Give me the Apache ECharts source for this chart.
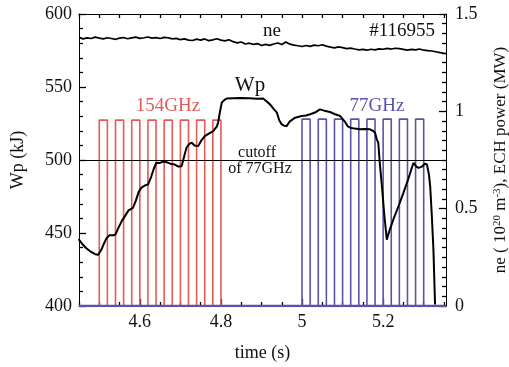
<!DOCTYPE html>
<html>
<head>
<meta charset="utf-8">
<script src="https://cdn.jsdelivr.net/npm/echarts@6/dist/echarts.min.js"></script>
<style>
  html, body { margin: 0; padding: 0; background: #fff; }
  #chart { width: 509px; height: 367px; }
</style>
</head>
<body>
<div id="chart"></div>
<script>
// Shot #116955: stored energy Wp, line density ne and ECH power vs time

// Stored energy Wp (kJ): [time (s), Wp]
const wpTrace = [
  [4.449, 445.8], [4.458, 442.5], [4.468, 439.6], [4.480, 437.0], [4.490, 435.5],
  [4.497, 435.0], [4.505, 438.5], [4.512, 443.0], [4.518, 446.5], [4.525, 448.5],
  [4.535, 448.5], [4.540, 449.0], [4.548, 454.0], [4.556, 458.5], [4.563, 461.4],
  [4.572, 465.5], [4.583, 467.2], [4.590, 472.0], [4.597, 478.0], [4.604, 481.1],
  [4.612, 482.5], [4.620, 483.2], [4.628, 488.5], [4.635, 494.5], [4.641, 498.1],
  [4.650, 498.0], [4.658, 499.0], [4.666, 498.5], [4.675, 497.5], [4.686, 496.9],
  [4.695, 495.5], [4.703, 495.7], [4.709, 502.0], [4.715, 508.4], [4.722, 511.0],
  [4.728, 511.8], [4.735, 510.0], [4.744, 509.5], [4.752, 513.5], [4.760, 516.4],
  [4.770, 518.0], [4.781, 519.8], [4.790, 523.0], [4.793, 525.6], [4.797, 532.0],
  [4.802, 539.3], [4.808, 541.0], [4.814, 542.1], [4.830, 542.3], [4.847, 542.5],
  [4.870, 542.3], [4.890, 542.0], [4.904, 542.1], [4.913, 540.0], [4.921, 538.1],
  [4.930, 535.0], [4.938, 532.4], [4.944, 527.0], [4.950, 524.4], [4.956, 523.5],
  [4.962, 523.2], [4.970, 526.5], [4.983, 529.0], [4.999, 530.1], [5.010, 530.5],
  [5.020, 531.3], [5.032, 532.5], [5.044, 534.7], [5.055, 533.8], [5.069, 532.9],
  [5.080, 531.5], [5.094, 530.1], [5.105, 526.5], [5.113, 523.0], [5.119, 522.1],
  [5.130, 521.5], [5.143, 521.0], [5.155, 521.2], [5.168, 521.0], [5.175, 520.0],
  [5.180, 518.7], [5.184, 514.5], [5.188, 511.8], [5.192, 497.0], [5.197, 482.0],
  [5.203, 462.0], [5.209, 445.4], [5.216, 452.0], [5.225, 459.1], [5.238, 468.5],
  [5.250, 477.5], [5.262, 487.0], [5.270, 494.0], [5.275, 498.1], [5.282, 495.5],
  [5.287, 494.6], [5.296, 495.5], [5.303, 497.5], [5.308, 496.9], [5.313, 490.0],
  [5.316, 482.0], [5.320, 462.0], [5.324, 438.5], [5.328, 401.0]
];

// Line-averaged density ne (10^20 m^-3): [time (s), ne]
const neTrace = [
  [4.450, 1.380], [4.460, 1.372], [4.470, 1.377], [4.480, 1.374], [4.490, 1.381],
  [4.500, 1.376], [4.510, 1.372], [4.520, 1.378], [4.530, 1.374], [4.540, 1.370],
  [4.550, 1.376], [4.560, 1.379], [4.570, 1.373], [4.580, 1.377], [4.590, 1.381],
  [4.600, 1.375], [4.610, 1.378], [4.620, 1.382], [4.630, 1.376], [4.640, 1.379],
  [4.650, 1.374], [4.660, 1.380], [4.670, 1.378], [4.680, 1.372], [4.690, 1.375],
  [4.700, 1.368], [4.710, 1.372], [4.720, 1.366], [4.730, 1.364], [4.740, 1.371],
  [4.750, 1.366], [4.760, 1.372], [4.770, 1.363], [4.780, 1.367], [4.790, 1.373],
  [4.800, 1.366], [4.810, 1.362], [4.820, 1.368], [4.830, 1.358], [4.840, 1.352],
  [4.850, 1.356], [4.860, 1.346], [4.870, 1.350], [4.880, 1.344], [4.890, 1.348],
  [4.900, 1.338], [4.910, 1.344], [4.920, 1.339], [4.930, 1.346], [4.940, 1.351],
  [4.950, 1.343], [4.960, 1.356], [4.970, 1.345], [4.980, 1.340], [4.990, 1.337],
  [5.000, 1.333], [5.010, 1.338], [5.020, 1.334], [5.030, 1.340], [5.040, 1.337],
  [5.050, 1.342], [5.060, 1.335], [5.070, 1.330], [5.080, 1.326], [5.090, 1.331],
  [5.100, 1.327], [5.110, 1.322], [5.120, 1.325], [5.130, 1.320], [5.140, 1.316],
  [5.150, 1.318], [5.160, 1.314], [5.170, 1.319], [5.180, 1.316], [5.190, 1.321],
  [5.200, 1.319], [5.210, 1.323], [5.220, 1.320], [5.230, 1.324], [5.240, 1.322],
  [5.250, 1.318], [5.260, 1.314], [5.270, 1.318], [5.280, 1.316], [5.290, 1.320],
  [5.300, 1.314], [5.310, 1.312], [5.320, 1.310], [5.330, 1.306], [5.340, 1.302],
  [5.350, 1.298], [5.355, 1.297]
];

// 154 GHz gyrotron pulses (s)
const pulse154On  = [4.50, 4.54, 4.58, 4.62, 4.66, 4.70, 4.74, 4.78];
const pulse154Off = [4.52, 4.56, 4.60, 4.64, 4.68, 4.72, 4.76, 4.80];
const power154 = 0.955; // MW

// 77 GHz gyrotron pulses (s)
const pulse77On  = [5.00, 5.04, 5.08, 5.12, 5.16, 5.20, 5.24, 5.28];
const pulse77Off = [5.02, 5.06, 5.10, 5.14, 5.18, 5.22, 5.26, 5.30];
const power77 = 0.96; // MW

// Cutoff density of the 77 GHz wave (10^20 m^-3)
const cutoffDensity = 0.75;

// Time axis range and ticks
const timeMin = 4.45;
const timeMax = 5.355;
const timeLabels = [4.6, 4.8, 5.0, 5.2];
const timeMinorTicks = [4.45, 4.5, 4.55, 4.65, 4.7, 4.75, 4.85, 4.9, 4.95,
  5.05, 5.1, 5.15, 5.25, 5.3, 5.35];
const timeAllTicks = [4.45, 4.5, 4.55, 4.6, 4.65, 4.7, 4.75, 4.8, 4.85, 4.9,
  4.95, 5.0, 5.05, 5.1, 5.15, 5.2, 5.25, 5.3, 5.35];

// Square-wave power trace from pulse edges
function pulseTrain(onTimes, offTimes, level) {
  const pts = [[timeMin, 0]];
  for (let i = 0; i < onTimes.length; i++) {
    pts.push([onTimes[i], 0], [onTimes[i], level], [offTimes[i], level], [offTimes[i], 0]);
  }
  pts.push([timeMax, 0]);
  return pts;
}

const SERIF = 'Liberation Serif';
const RED = '#e25b57';
const BLUE = '#5a54a8';
const INK = '#111';

const chart = echarts.init(document.getElementById('chart'), null, { renderer: 'canvas' });

const tickText = { fontFamily: SERIF, fontSize: 18, color: INK };
const tickLine = { color: '#000', width: 1.3 };

chart.setOption({
  animation: false,
  backgroundColor: '#fff',
  grid: { left: 79, right: 63, top: 14, bottom: 61, containLabel: false, outerBoundsMode: 'none' },
  xAxis: [
    {
      type: 'value', min: timeMin, max: timeMax, position: 'bottom',
      name: 'time (s)', nameLocation: 'middle', nameGap: 38,
      nameTextStyle: { fontFamily: SERIF, fontSize: 18, color: INK },
      axisLine: { show: true, lineStyle: { color: '#000', width: 1 } },
      axisTick: { show: true, inside: true, length: 7, customValues: timeLabels, lineStyle: tickLine },
      axisLabel: Object.assign({ customValues: timeLabels, margin: 7,
        formatter: v => String(Math.round(v * 10) / 10) }, tickText),
      splitLine: { show: false }
    },
    {
      type: 'value', min: timeMin, max: timeMax, position: 'bottom',
      axisLine: { show: false },
      axisTick: { show: true, inside: true, length: 4, customValues: timeMinorTicks, lineStyle: tickLine },
      axisLabel: { show: false },
      splitLine: { show: false }
    },
    {
      type: 'value', min: timeMin, max: timeMax, position: 'top',
      axisLine: { show: true, lineStyle: { color: '#000', width: 1 } },
      axisTick: { show: true, inside: true, length: 4, customValues: timeAllTicks, lineStyle: tickLine },
      axisLabel: { show: false },
      splitLine: { show: false }
    }
  ],
  yAxis: [
    {
      type: 'value', min: 400, max: 600, interval: 50, position: 'left',
      name: 'Wp (kJ)', nameLocation: 'middle', nameGap: 52, nameRotate: 90,
      nameTextStyle: { fontFamily: SERIF, fontSize: 18, color: INK },
      axisLine: { show: true, lineStyle: { color: '#000', width: 1 } },
      axisTick: { show: true, inside: true, length: 7, lineStyle: tickLine },
      minorTick: { show: true, splitNumber: 5, length: 4, lineStyle: tickLine },
      axisLabel: Object.assign({ margin: 7 }, tickText),
      splitLine: { show: false }
    },
    {
      type: 'value', min: 0, max: 1.5, interval: 0.5, position: 'right',
      name: 'ne ( 10{sup|20} m{sup|-3}), ECH power (MW)', nameLocation: 'middle', nameGap: 46, nameRotate: 90,
      nameTextStyle: {
        fontFamily: SERIF, fontSize: 17, color: INK,
        rich: { sup: { fontFamily: SERIF, fontSize: 11, color: INK, verticalAlign: 'bottom', padding: [0, 0, 7, 0] } }
      },
      axisLine: { show: true, lineStyle: { color: '#000', width: 1 } },
      axisTick: { show: true, inside: true, length: 7, lineStyle: tickLine },
      minorTick: { show: true, splitNumber: 10, length: 4, lineStyle: tickLine },
      axisLabel: Object.assign({ margin: 9, formatter: v => String(v) }, tickText),
      splitLine: { show: false }
    }
  ],
  series: [
    {
      name: '154GHz', type: 'line', xAxisIndex: 0, yAxisIndex: 1,
      data: pulseTrain(pulse154On, pulse154Off, power154),
      showSymbol: false, symbol: 'none', z: 2,
      lineStyle: { color: RED, width: 1.6 }
    },
    {
      name: '77GHz', type: 'line', xAxisIndex: 0, yAxisIndex: 1,
      data: pulseTrain(pulse77On, pulse77Off, power77),
      showSymbol: false, symbol: 'none', z: 3,
      lineStyle: { color: BLUE, width: 1.6 }
    },
    {
      name: 'baseline', type: 'line', xAxisIndex: 0, yAxisIndex: 1,
      data: [[timeMin, 0], [timeMax, 0]],
      showSymbol: false, symbol: 'none', z: 4,
      lineStyle: { color: BLUE, width: 2.5 }
    },
    {
      name: 'ne', type: 'line', xAxisIndex: 0, yAxisIndex: 1,
      data: neTrace, showSymbol: false, symbol: 'none', z: 5,
      lineStyle: { color: '#000', width: 1.7 },
      markLine: {
        silent: true, symbol: 'none', label: { show: false },
        lineStyle: { color: '#000', width: 1, type: 'solid' },
        data: [{ yAxis: cutoffDensity }]
      }
    },
    {
      name: 'Wp', type: 'line', xAxisIndex: 0, yAxisIndex: 0,
      data: wpTrace, showSymbol: false, symbol: 'none', z: 6,
      lineStyle: { color: '#000', width: 2 }
    }
  ],
  graphic: [
    { type: 'text', x: 272, y: 31, z: 10,
      style: { text: 'ne', fontFamily: SERIF, fontSize: 19, fill: INK, align: 'center', verticalAlign: 'middle' } },
    { type: 'text', x: 435, y: 31, z: 10,
      style: { text: '#116955', fontFamily: SERIF, fontSize: 19, fill: INK, align: 'right', verticalAlign: 'middle' } },
    { type: 'text', x: 250, y: 85, z: 10,
      style: { text: 'Wp', fontFamily: SERIF, fontSize: 21, fill: INK, align: 'center', verticalAlign: 'middle' } },
    { type: 'text', x: 168, y: 106, z: 10,
      style: { text: '154GHz', fontFamily: SERIF, fontSize: 19, fill: RED, align: 'center', verticalAlign: 'middle' } },
    { type: 'text', x: 377, y: 106, z: 10,
      style: { text: '77GHz', fontFamily: SERIF, fontSize: 19, fill: BLUE, align: 'center', verticalAlign: 'middle' } },
    { type: 'text', x: 257, y: 153, z: 10,
      style: { text: 'cutoff', fontFamily: SERIF, fontSize: 16, fill: INK, align: 'center', verticalAlign: 'middle' } },
    { type: 'text', x: 260, y: 169, z: 10,
      style: { text: 'of 77GHz', fontFamily: SERIF, fontSize: 16, fill: INK, align: 'center', verticalAlign: 'middle' } }
  ]
});
</script>
</body>
</html>
